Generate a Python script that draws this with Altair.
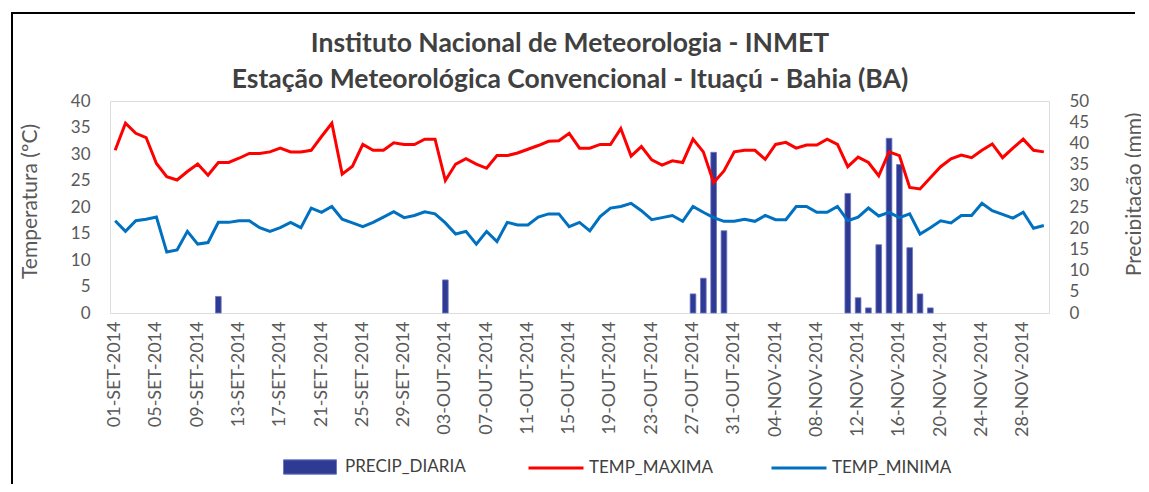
import altair as alt
import pandas as pd

FONT = "Lato"

meses = [("SET", 30), ("OUT", 31), ("NOV", 30)]
dias = [f"{d:02d}-{m}-2014" for m, n in meses for d in range(1, n + 1)]
rotulos_x = dias[::4]

temp_maxima = [
    30.7, 35.8, 33.9, 33.1, 28.2, 25.7, 25.1, 26.7, 28.1, 26.0,
    28.4, 28.4, 29.2, 30.1, 30.1, 30.4, 31.1, 30.4, 30.4, 30.7,
    33.3, 35.8, 26.2, 27.7, 31.8, 30.7, 30.7, 32.1, 31.8, 31.8,
    32.8, 32.8, 25.0, 28.1, 29.1, 28.1, 27.3, 29.7, 29.7, 30.2,
    30.9, 31.6, 32.4, 32.5, 33.9, 31.1, 31.1, 31.8, 31.8, 34.8,
    29.6, 31.4, 28.9, 27.9, 28.7, 28.4, 32.8, 30.4, 24.6, 26.8,
    30.4, 30.7, 30.7, 29.0, 31.8, 32.2, 31.1, 31.7, 31.7, 32.8,
    31.8, 27.6, 29.4, 28.4, 25.9, 30.4, 29.7, 23.7, 23.4, 25.5,
    27.6, 29.1, 29.8, 29.3, 30.7, 31.9, 29.3, 31.1, 32.8, 30.7,
    30.4,
]

temp_minima = [
    17.4, 15.4, 17.4, 17.7, 18.1, 11.5, 11.9, 15.4, 13.0, 13.3,
    17.1, 17.1, 17.4, 17.4, 16.1, 15.4, 16.1, 17.1, 16.1, 19.8,
    19.0, 20.1, 17.7, 17.0, 16.3, 17.1, 18.1, 19.1, 18.0, 18.4,
    19.1, 18.7, 17.0, 14.9, 15.4, 13.0, 15.4, 13.5, 17.1, 16.6,
    16.6, 18.1, 18.7, 18.7, 16.3, 17.1, 15.5, 18.2, 19.8, 20.1,
    20.7, 19.3, 17.6, 18.0, 18.4, 17.3, 20.1, 19.0, 18.0, 17.3,
    17.3, 17.7, 17.3, 18.4, 17.6, 17.6, 20.1, 20.1, 19.0, 19.0,
    20.1, 17.4, 18.1, 19.8, 18.3, 19.0, 18.0, 18.7, 14.9, 16.1,
    17.4, 17.0, 18.4, 18.4, 20.7, 19.3, 18.6, 17.9, 19.0, 16.0,
    16.5,
]

precip_diaria = [
    0, 0, 0, 0, 0, 0, 0, 0, 0, 0,
    3.9, 0, 0, 0, 0, 0, 0, 0, 0, 0,
    0, 0, 0, 0, 0, 0, 0, 0, 0, 0,
    0, 0, 7.8, 0, 0, 0, 0, 0, 0, 0,
    0, 0, 0, 0, 0, 0, 0, 0, 0, 0,
    0, 0, 0, 0, 0, 0, 4.5, 8.2, 37.9, 19.4,
    0, 0, 0, 0, 0, 0, 0, 0, 0, 0,
    0, 28.2, 3.6, 1.2, 16.1, 41.2, 35.0, 15.4, 4.5, 1.2,
    0, 0, 0, 0, 0, 0, 0, 0, 0, 0,
    0,
]

titulo_1 = "Instituto Nacional de Meteorologia - INMET"
titulo_2 = "Estação Meteorológica Convencional - Ituaçú - Bahia (BA)"

df = pd.DataFrame({
    "dia": dias,
    "TEMP_MAXIMA": temp_maxima,
    "TEMP_MINIMA": temp_minima,
    "PRECIP_DIARIA": precip_diaria,
})

x_enc = alt.X(
    "dia:N", sort=dias, title=None,
    scale=alt.Scale(paddingInner=0.45, paddingOuter=0.225),
    axis=alt.Axis(values=rotulos_x, labelAngle=270, labelFont=FONT, labelFontSize=18,
                  labelColor="#595959", labelPadding=8, domain=False, ticks=False,
                  tickSize=0, grid=False, labelOverlap=False),
)

barras = alt.Chart(df).transform_filter("datum.PRECIP_DIARIA > 0").transform_calculate(
    serie="'PRECIP_DIARIA'"
).mark_bar(stroke="#6c76c6", strokeWidth=0.8).encode(
    x=x_enc,
    y=alt.Y("PRECIP_DIARIA:Q", title="Precipitação (mm)",
            scale=alt.Scale(domain=[0, 50], nice=False),
            axis=alt.Axis(orient="right", values=list(range(0, 55, 5)), domain=False,
                          ticks=False, tickSize=0, grid=False, labelFont=FONT,
                          labelFontSize=17, labelColor="#595959", labelPadding=20,
                          titleFont=FONT, titleFontSize=21, titleFontWeight="normal",
                          titleColor="#595959", titleAngle=270, titleX=85, titleY=93,
                          titleAlign="center", titleBaseline="middle")),
    fill=alt.Fill("serie:N", scale=alt.Scale(domain=["PRECIP_DIARIA"], range=["#2F3A93"]),
                  legend=alt.Legend(title=None, orient="none", legendX=173, legendY=339,
                                    direction="horizontal",
                                    symbolType="M-1,-0.27H1V0.27H-1Z", symbolSize=2809,
                                    symbolStrokeColor="#6c76c6", symbolStrokeWidth=1,
                                    labelFont=FONT, labelFontSize=17, labelColor="#404040",
                                    labelOffset=8, padding=0)),
)

linhas = alt.Chart(df).transform_fold(
    ["TEMP_MAXIMA", "TEMP_MINIMA"], as_=["serie", "temp"]
).mark_line(strokeWidth=3).encode(
    x=x_enc,
    y=alt.Y("temp:Q", title="Temperatura (ºC)",
            scale=alt.Scale(domain=[0, 40], nice=False),
            axis=alt.Axis(orient="left", values=list(range(0, 45, 5)), domain=False,
                          ticks=False, tickSize=0, grid=False, labelFont=FONT,
                          labelFontSize=17, labelColor="#595959", labelPadding=20,
                          titleFont=FONT, titleFontSize=21, titleFontWeight="normal",
                          titleColor="#595959", titleAngle=270, titleX=-80, titleY=100,
                          titleAlign="center", titleBaseline="middle")),
    stroke=alt.Stroke("serie:N",
                      scale=alt.Scale(domain=["TEMP_MAXIMA", "TEMP_MINIMA"],
                                      range=["#FF0000", "#0070C0"]),
                      legend=alt.Legend(title=None, orient="none", legendX=417, legendY=338,
                                        direction="horizontal", symbolType="stroke",
                                        symbolSize=3025, symbolStrokeWidth=3,
                                        labelFont=FONT, labelFontSize=17,
                                        labelColor="#404040", labelOffset=4,
                                        columnPadding=51, padding=0)),
)

uma = alt.Data(values=[{"k": 1}])

borda_esq = alt.Chart(uma).mark_rect(color="black").encode(
    x=alt.value(-99), x2=alt.value(-97), y=alt.value(-89), y2=alt.value(383)
)
borda_topo = alt.Chart(uma).mark_rect(color="black").encode(
    x=alt.value(-99), x2=alt.value(1025), y=alt.value(-89), y2=alt.value(-87)
)

t1 = alt.Chart(uma).mark_text(
    text=titulo_1, font=FONT, fontSize=26.5, fontWeight="bold", color="#404040",
    align="center", baseline="middle"
).encode(x=alt.value(460), y=alt.value(-57))

t2 = alt.Chart(uma).mark_text(
    text=titulo_2, font=FONT, fontSize=26.5, fontWeight="bold", color="#404040",
    align="center", baseline="middle"
).encode(x=alt.value(460), y=alt.value(-21))

chart = alt.layer(borda_esq, borda_topo, barras, linhas, t1, t2).resolve_scale(
    y="independent"
).properties(
    width=939, height=212,
    padding={"left": 102, "top": 93, "right": 92, "bottom": 171},
    autosize=alt.AutoSizeParams(type="none"),
).configure_view(strokeWidth=0).configure(font=FONT)

chart.save("out.html", embed_options={"renderer": "svg", "actions": False})
